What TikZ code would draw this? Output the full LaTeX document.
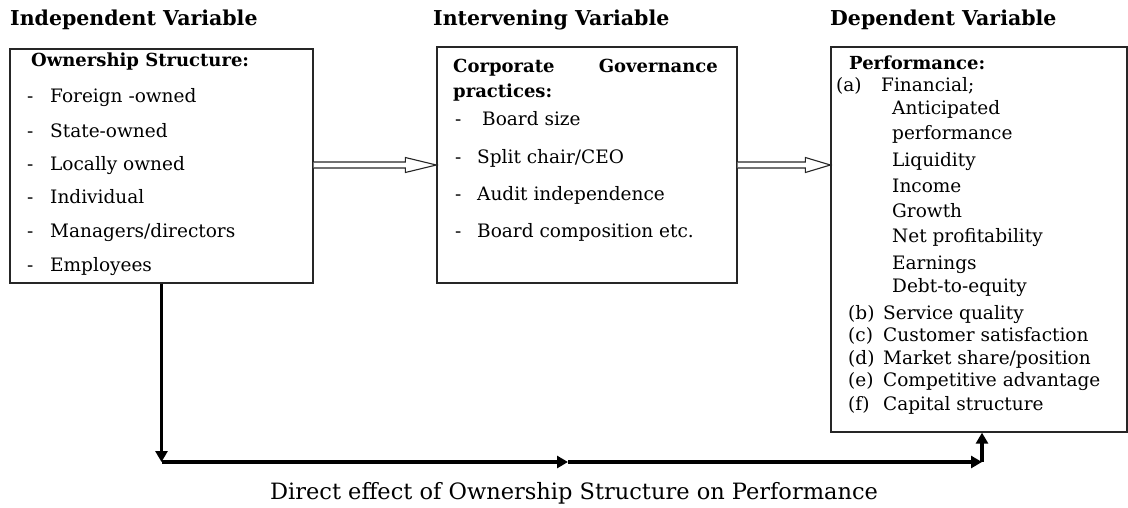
\documentclass[tikz,border=0pt]{standalone}
\usepackage{fontspec}
\setmainfont{DejaVu Serif}
\usetikzlibrary{arrows.meta,calc}
\begin{document}
\begin{tikzpicture}[x=1pt,y=-1pt,
  box/.style={draw=black!85,line width=1.3pt,inner sep=0pt},
  txt/.style={anchor=west,inner sep=0pt,text height=13pt,text depth=4pt,font=\fontsize{18.5}{22}\selectfont},
  btxt/.style={txt,font=\fontsize{18}{22}\selectfont\bfseries},
  hdr/.style={anchor=west,inner sep=0pt,text height=14pt,text depth=4pt,font=\fontsize{20.5}{24}\selectfont\bfseries},
  dbl/.style={draw=black!85,line width=1.1pt,fill=white,line join=miter},
  heavy/.style={line width=3.5pt,-{Triangle[length=11pt,width=12pt]}}]
\useasboundingbox (0,0) rectangle (1128,507);

% headers
\node[hdr] (h1) at (10,20) {Independent Variable};
\node[hdr] (h2) at (433,20) {Intervening Variable};
\node[hdr] (h3) at (830,20) {Dependent Variable};

% boxes
\node[box,minimum width=303pt,minimum height=234pt] (b1) at (161.5,166) {};
\node[box,minimum width=300pt,minimum height=236pt] (b2) at (587,165) {};
\node[box,minimum width=296pt,minimum height=385pt] (b3) at (979,239.5) {};

% box 1 text
\node[btxt] (t1) at (31,62) {Ownership Structure:};
\foreach \y/\t [count=\i] in {98/{Foreign -owned},133/{State-owned},166/{Locally owned},199/{Individual},233/{Managers/directors},267/{Employees}}{
  \node[txt] (d1\i) at (27,\y) {-};
  \node[txt] (o\i) at (50,\y) {\t};
}

% box 2 text
\node[btxt] (t2a) at (453,68) {Corporate};
\node[btxt,anchor=east] (t2b) at (718,68) {Governance};
\node[btxt] (t2c) at (453,93) {practices:};
\node[txt] (d21) at (455,121) {-};
\node[txt] (g1) at (482,121) {Board size};
\foreach \y/\t [count=\i from 2] in {159/{Split chair/CEO},196/{Audit independence},233/{Board composition etc.}}{
  \node[txt] (d2\i) at (455,\y) {-};
  \node[txt] (g\i) at (477,\y) {\t};
}

% box 3 text
\node[btxt] (t3) at (849,65) {Performance:};
\node[txt] (pa) at (836,87) {(a)};
\node[txt] (pfin) at (881,87) {Financial;};
\foreach \y/\t [count=\i] in {110/{Anticipated},135/{performance},162/{Liquidity},188/{Income},213/{Growth},238/{Net profitability},265/{Earnings},288/{Debt-to-equity}}{
  \node[txt] (f\i) at (892,\y) {\t};
}
\foreach \y/\l/\t [count=\i] in {315/(b)/{Service quality},337/(c)/{Customer satisfaction},360/(d)/{Market share/position},382/(e)/{Competitive advantage},406/(f)/{Capital structure}}{
  \node[txt] (l\i) at (848,\y) {\l};
  \node[txt] (p\i) at (883,\y) {\t};
}

% hollow double arrows
\draw[dbl] ($(b1.east|-b2.west)+(0,-3)$) -- ($(b2.west)+(-31,-3)$) -- ($(b2.west)+(-31,-7.5)$)
  -- (b2.west) -- ($(b2.west)+(-31,7.5)$) -- ($(b2.west)+(-31,3)$) -- ($(b1.east|-b2.west)+(0,3)$);
\coordinate (a2) at (b2.east -| b3.west);
\draw[dbl] ($(b2.east)+(0,-3)$) -- ($(a2)+(-25,-3)$) -- ($(a2)+(-25,-7.5)$)
  -- (a2) -- ($(a2)+(-25,7.5)$) -- ($(a2)+(-25,3)$) -- ($(b2.east)+(0,3)$);

% direct effect connector
\coordinate (c1) at (b1.south |- 0,462);
\coordinate (m) at (568,462);
\coordinate (c2) at (982,462);
\coordinate (tg) at (c2 |- b3.south);
\draw[heavy] (b1.south) -- (c1);
\draw[heavy] (c1) -- (m);
\draw[heavy] (m) -- (c2);
\draw[heavy] (c2) -- (tg);

\node[anchor=center,inner sep=0pt,font=\fontsize{22.5}{26}\selectfont] (cap) at (574,493) {Direct effect of Ownership Structure on Performance};
\end{tikzpicture}
\end{document}
